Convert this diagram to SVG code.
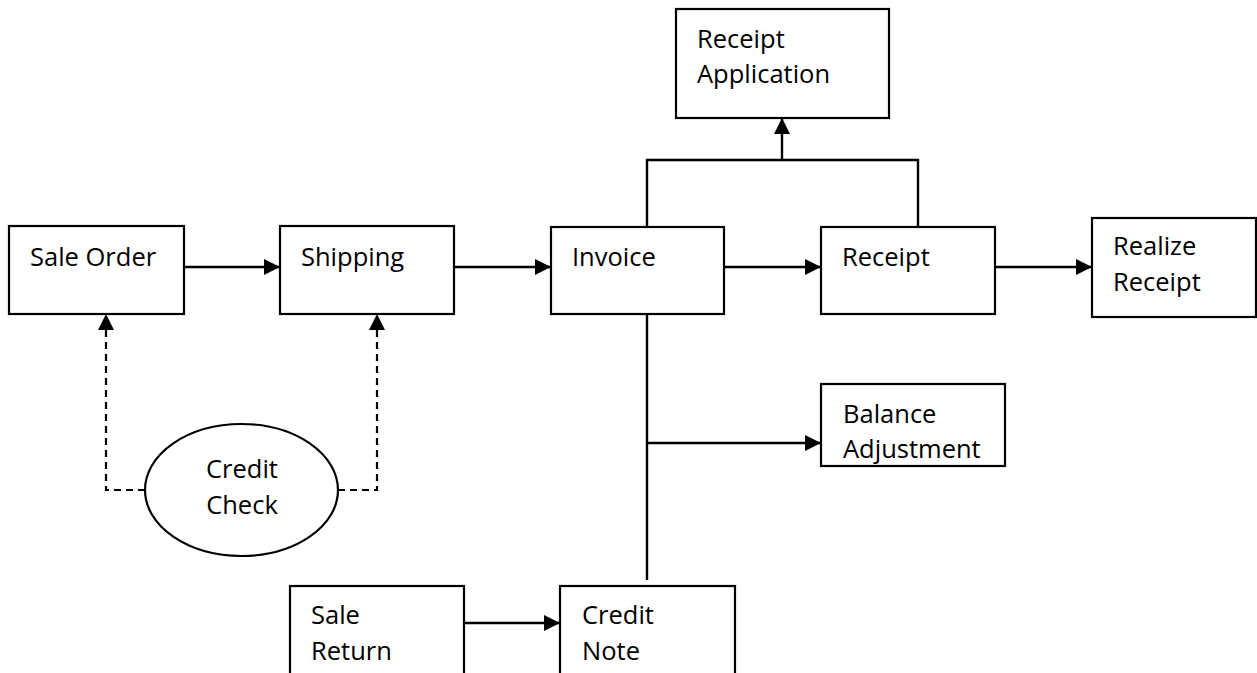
<svg xmlns="http://www.w3.org/2000/svg" width="1257" height="673" viewBox="0 0 1257 673">
  <style>
    .box { fill: #fff; stroke: #000; stroke-width: 2.2; }
    .lbl { font-family: "Open Sans", "Liberation Sans", sans-serif; font-size: 25.5px; fill: #000; }
    .wire { fill: none; stroke: #000; stroke-width: 2.4; }
    .dash { fill: none; stroke: #000; stroke-width: 2.2; stroke-dasharray: 7 5; }
  </style>
  <defs>
    <marker id="head" viewBox="0 0 10 10" refX="10" refY="5" markerWidth="16" markerHeight="16" markerUnits="userSpaceOnUse" orient="auto">
      <path d="M0,0 L10,5 L0,10 Z" fill="#000"/>
    </marker>
  </defs>
  <rect width="1257" height="673" fill="#fff"/>

  <!-- connectors -->
  <g id="connectors">
    <line class="wire" x1="184" y1="267" x2="280" y2="267" marker-end="url(#head)"/>
    <line class="wire" x1="454" y1="267" x2="551" y2="267" marker-end="url(#head)"/>
    <line class="wire" x1="724" y1="267" x2="821" y2="267" marker-end="url(#head)"/>
    <line class="wire" x1="995" y1="267" x2="1092" y2="267" marker-end="url(#head)"/>
    <!-- invoice + receipt feed receipt application -->
    <polyline class="wire" points="647,227 647,160 918,160 918,227"/>
    <line class="wire" x1="782" y1="160" x2="782" y2="118" marker-end="url(#head)"/>
    <!-- invoice down to credit note, branch to balance adjustment -->
    <line class="wire" x1="647" y1="314" x2="647" y2="580"/>
    <line class="wire" x1="647" y1="443" x2="821" y2="443" marker-end="url(#head)"/>
    <line class="wire" x1="464" y1="623" x2="560" y2="623" marker-end="url(#head)"/>
    <!-- credit check (dashed) -->
    <polyline class="dash" points="145,490 106,490 106,314" marker-end="url(#head)"/>
    <polyline class="dash" points="338,490 377,490 377,314" marker-end="url(#head)"/>
  </g>

  <g id="sale-order">
    <rect class="box" x="9" y="226" width="175" height="88"/>
    <text class="lbl" x="30" y="266">Sale Order</text>
  </g>
  <g id="shipping">
    <rect class="box" x="280" y="226" width="174" height="88"/>
    <text class="lbl" x="301" y="266">Shipping</text>
  </g>
  <g id="invoice">
    <rect class="box" x="551" y="227" width="173" height="87"/>
    <text class="lbl" x="572" y="266">Invoice</text>
  </g>
  <g id="receipt">
    <rect class="box" x="821" y="227" width="174" height="87"/>
    <text class="lbl" x="842" y="266">Receipt</text>
  </g>
  <g id="realize-receipt">
    <rect class="box" x="1092" y="218" width="164" height="99"/>
    <text class="lbl" x="1113" y="255">Realize</text>
    <text class="lbl" x="1113" y="291">Receipt</text>
  </g>
  <g id="receipt-application">
    <rect class="box" x="676" y="9" width="213" height="109"/>
    <text class="lbl" x="697" y="48">Receipt</text>
    <text class="lbl" x="697" y="83">Application</text>
  </g>
  <g id="balance-adjustment">
    <rect class="box" x="821" y="384" width="184" height="82"/>
    <text class="lbl" x="843" y="423">Balance</text>
    <text class="lbl" x="843" y="458">Adjustment</text>
  </g>
  <g id="credit-check">
    <ellipse class="box" cx="241.5" cy="490" rx="96.5" ry="66"/>
    <text class="lbl" x="242" y="478" text-anchor="middle">Credit</text>
    <text class="lbl" x="242" y="514" text-anchor="middle">Check</text>
  </g>
  <g id="sale-return">
    <rect class="box" x="290" y="586" width="174" height="100"/>
    <text class="lbl" x="311" y="624">Sale</text>
    <text class="lbl" x="311" y="660">Return</text>
  </g>
  <g id="credit-note">
    <rect class="box" x="560" y="586" width="175" height="100"/>
    <text class="lbl" x="582" y="624">Credit</text>
    <text class="lbl" x="582" y="660">Note</text>
  </g>
</svg>
